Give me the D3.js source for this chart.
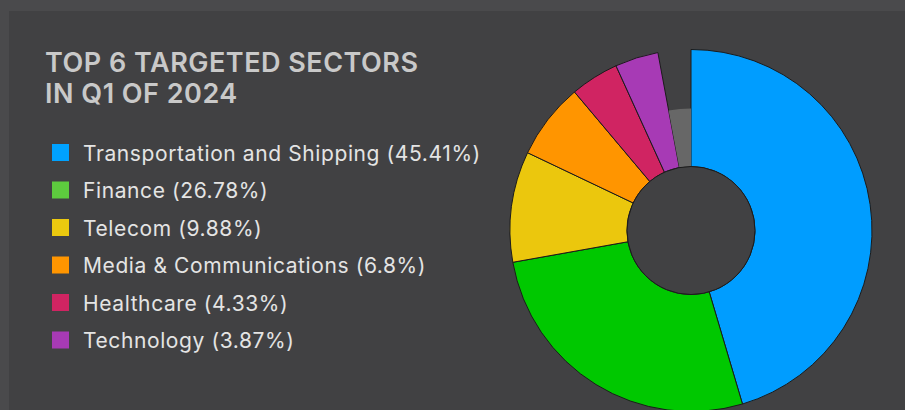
<!DOCTYPE html>
<html>
<head>
<meta charset="utf-8">
<script src="https://cdn.jsdelivr.net/npm/d3@7"></script>
<style>
  html, body { margin: 0; padding: 0; background: #4a4a4c; }
  svg { display: block; }
</style>
</head>
<body>
<svg></svg>
<script>
const width = 905, height = 410

// data
const sectors = ['Transportation and Shipping', 'Finance', 'Telecom', 'Media & Communications', 'Healthcare', 'Technology']
const shares = [45.41, 26.78, 9.88, 6.8, 4.33, 3.87]
const otherShare = 2.93
const sliceColors = ['#009dff', '#00c800', '#ebc70d', '#ff9500', '#d02462', '#a73ab5']
const legendColors = ['#00a2ff', '#5dcb3e', '#ebc90f', '#ff9500', '#d02462', '#a73ab5']
const titleLines = ['TOP 6 TARGETED SECTORS', 'IN Q1 OF 2024']

const svg = d3.select('svg').attr('width', width).attr('height', height)

// panel
svg.append('rect')
    .attr('x', 9).attr('y', 11)
    .attr('width', width - 9).attr('height', height - 11)
    .attr('fill', '#414143')

// title
svg.append('g').selectAll('text')
    .data(titleLines)
    .enter().append('text')
    .attr('x', 45)
    .attr('y', (d, i) => 72 + i * 31)
    .attr('fill', '#c9c9c9')
    .style('font-family', 'Inter, "Open Sans", sans-serif')
    .style('font-weight', 600)
    .style('font-size', '27px')
    .style('letter-spacing', '0.5px')
    .text(d => d)

// legend
const legend = svg.append('g').selectAll('g')
    .data(sectors)
    .enter().append('g')
    .attr('transform', (d, i) => 'translate(52,' + (144 + i * 37.5) + ')')

legend.append('rect')
    .attr('width', 17).attr('height', 17)
    .attr('fill', (d, i) => legendColors[i])

legend.append('text')
    .attr('x', 31).attr('y', 16.5)
    .attr('fill', '#e4e4e4')
    .style('font-family', 'Inter, "Open Sans", sans-serif')
    .style('font-size', '21px')
    .style('letter-spacing', '0.6px')
    .text((d, i) => d + ' (' + shares[i] + '%)')

// donut
const cx = 691, cy = 230.5, rInner = 64, rOuter = 181, rOther = 122

const pieData = shares.map((v, i) => ({ name: sectors[i], value: v, color: sliceColors[i], other: false }))
pieData.push({ name: 'Other', value: otherShare, color: '#676767', other: true })

const pie = d3.pie().sort(null).value(d => d.value)
const arc = d3.arc()
    .innerRadius(rInner)
    .outerRadius(d => d.data.other ? rOther : rOuter)

const donut = svg.append('g').attr('transform', 'translate(' + cx + ',' + cy + ')')

donut.selectAll('path')
    .data(pie(pieData))
    .enter().append('path')
    .attr('d', arc)
    .attr('fill', d => d.data.color)
    .attr('stroke', d => d.data.other ? 'none' : '#1b1b1b')
    .attr('stroke-width', 1)

donut.append('circle')
    .attr('r', rInner)
    .attr('fill', '#414143')
    .attr('stroke', '#1b1b1b')
    .attr('stroke-width', 1)
</script>
</body>
</html>
